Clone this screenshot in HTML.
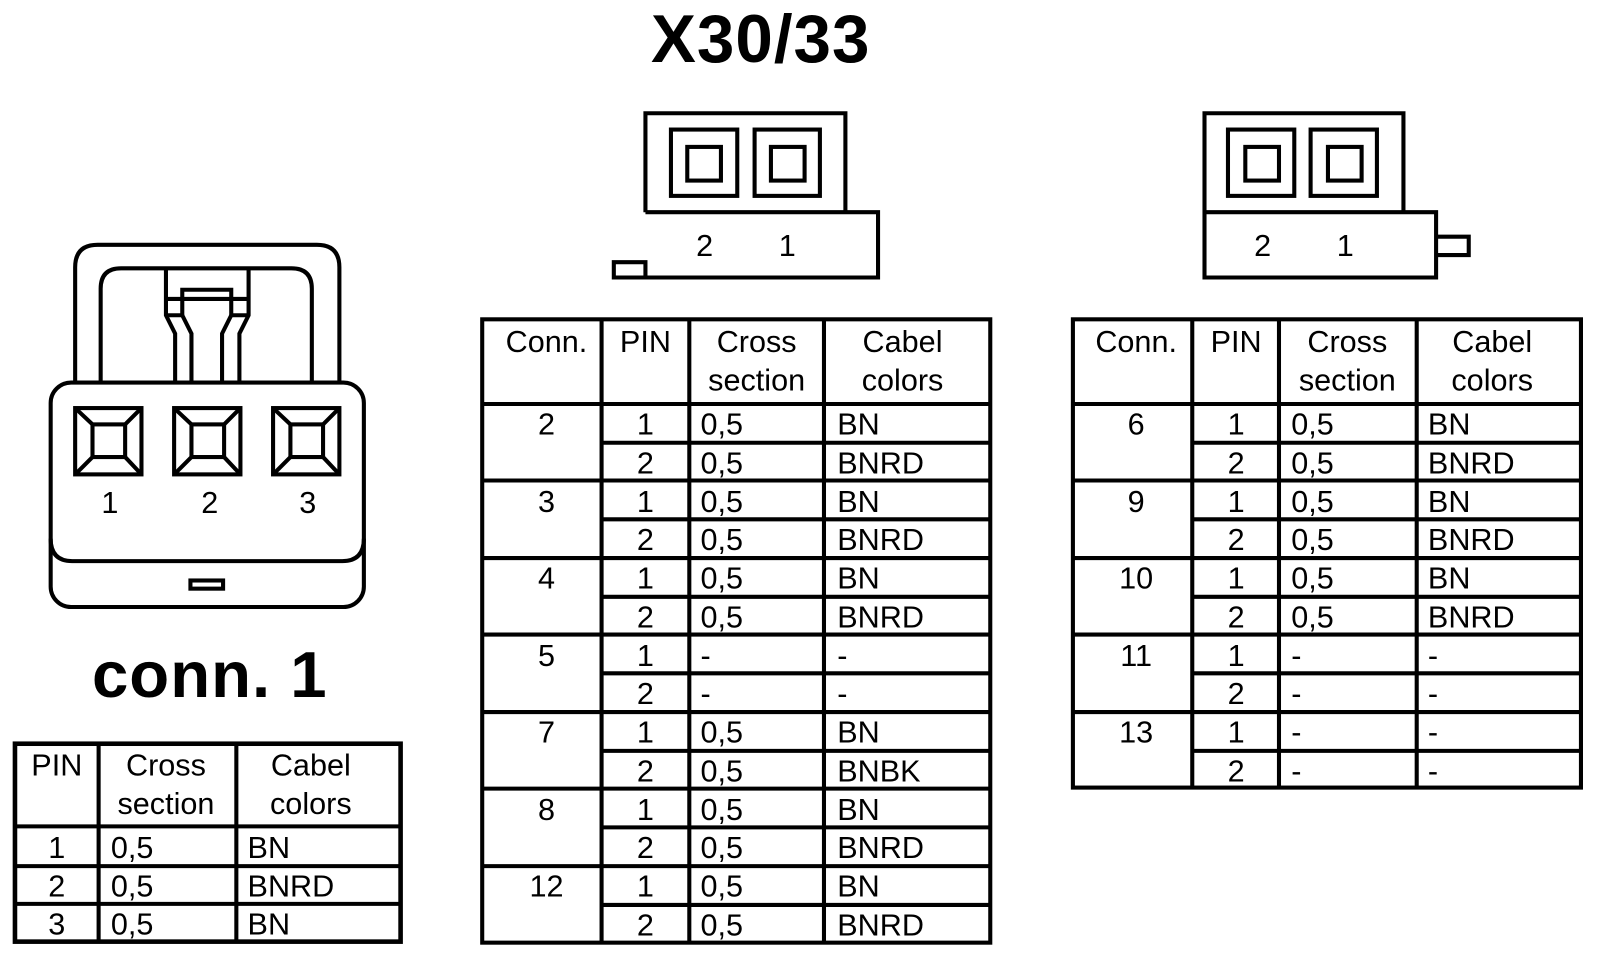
<!DOCTYPE html>
<html><head><meta charset="utf-8"><style>
html,body{margin:0;padding:0;background:#fff;width:1600px;height:960px;overflow:hidden}
svg{display:block}
text{font-family:"Liberation Sans",Arial,sans-serif;fill:#000}
.t{font-size:30px}
.c{text-anchor:middle}
</style></head><body>
<svg width="1600" height="960" viewBox="0 0 1567 941" xmlns="http://www.w3.org/2000/svg">
<g fill="none" stroke="#000" stroke-width="4">
<path d="M73,375 V262 Q73,240 95,240 H310 Q332,240 332,262 V375"/>
<path d="M98,375 V283 Q98,263 118,263 H285 Q305,263 305,283 V375"/>
<path d="M162,263 V309 L171,327 V375 M243,263 V309 L234,327 V375 M162,293 H243"/>
<path d="M162,309 H178 V284 H226 V309 H243"/>
<path d="M178,309 L187,327 V375 M226,309 L217,327 V375"/>
<rect x="49" y="375" width="307" height="220" rx="20"/>
<path d="M49,528 Q49,550 70,550 H335 Q356,550 356,528"/>
<rect x="186" y="569" width="32" height="8"/>
<g id="sq">
<rect x="73" y="400" width="65" height="65"/>
<rect x="90" y="416" width="32" height="32"/>
<path d="M73,400 L90,416 M138,400 L122,416 M73,465 L90,448 M138,465 L122,448"/>
</g>
<use href="#sq" x="97"/>
<use href="#sq" x="194"/>
<path d="M632,208 V111 H828 V208 M601,257 H632 V272 H601 Z M632,208 H860 V272 H632 V257"/>
<rect x="657" y="127" width="65" height="65"/>
<rect x="673" y="144" width="33" height="33"/>
<rect x="739" y="127" width="64" height="65"/>
<rect x="755" y="144" width="33" height="33"/>
<path d="M1180,208 V111 H1375 V208 M1180,208 H1407 V272 H1180 Z M1407,232 H1439 V250 H1407"/>
<rect x="1203" y="127" width="65" height="65"/>
<rect x="1220" y="144" width="33" height="33"/>
<rect x="1284" y="127" width="65" height="65"/>
<rect x="1301" y="144" width="33" height="33"/>
</g>
<text x="690" y="251" class="t c">2</text><text x="771" y="251" class="t c">1</text>
<text x="1237" y="251" class="t c">2</text><text x="1318" y="251" class="t c">1</text>
<text x="107" y="503" class="t c">1</text><text x="205" y="503" class="t c">2</text><text x="301" y="503" class="t c">3</text>
<text x="745" y="61" class="c" style="font-size:66px;font-weight:bold;letter-spacing:1px">X30/33</text>
<text x="205" y="683" class="c" style="font-size:64px;font-weight:bold;letter-spacing:1px">conn. 1</text>

<g stroke="#000" fill="none">
<rect x="14" y="729" width="378" height="194" stroke-width="4.5"/>
<path stroke-width="4" d="M96,729 V923 M231,729 V923 M14,810 H392 M14,849 H392 M14,886 H392"/>
</g>
<g class="t">
<text x="55" y="760" class="c">PIN</text>
<text x="162" y="760" class="c">Cross</text><text x="162" y="798" class="c">section</text>
<text x="304" y="760" class="c">Cabel</text><text x="304" y="798" class="c">colors</text>
<text x="55" y="841" class="c">1</text><text x="108" y="841">0,5</text><text x="242" y="841">BN</text>
<text x="55" y="879" class="c">2</text><text x="108" y="879">0,5</text><text x="242" y="879">BNRD</text>
<text x="55" y="916" class="c">3</text><text x="108" y="916">0,5</text><text x="242" y="916">BN</text>
</g>

<g stroke="#000" fill="none" stroke-width="4">
<rect x="472" y="313" width="498" height="611"/>
<path d="M589,313 V924 M675,313 V924 M807,313 V924
M472,396 H970 M589,434 H970 M472,471 H970 M589,509 H970 M472,547 H970 M589,585 H970 M472,622 H970
M589,660 H970 M472,698 H970 M589,736 H970 M472,773 H970 M589,811 H970 M472,849 H970 M589,887 H970"/>
</g>
<g class="t">
<text x="535" y="345" class="c">Conn.</text><text x="632" y="345" class="c">PIN</text>
<text x="741" y="345" class="c">Cross</text><text x="741" y="383" class="c">section</text>
<text x="884" y="345" class="c">Cabel</text><text x="884" y="383" class="c">colors</text>
<text x="535" y="426" class="c">2</text>
<text x="632" y="426" class="c">1</text><text x="686" y="426">0,5</text><text x="820" y="426">BN</text>
<text x="632" y="464" class="c">2</text><text x="686" y="464">0,5</text><text x="820" y="464">BNRD</text>
<text x="535" y="502" class="c">3</text>
<text x="632" y="502" class="c">1</text><text x="686" y="502">0,5</text><text x="820" y="502">BN</text>
<text x="632" y="539" class="c">2</text><text x="686" y="539">0,5</text><text x="820" y="539">BNRD</text>
<text x="535" y="577" class="c">4</text>
<text x="632" y="577" class="c">1</text><text x="686" y="577">0,5</text><text x="820" y="577">BN</text>
<text x="632" y="615" class="c">2</text><text x="686" y="615">0,5</text><text x="820" y="615">BNRD</text>
<text x="535" y="653" class="c">5</text>
<text x="632" y="653" class="c">1</text><text x="686" y="653">-</text><text x="820" y="653">-</text>
<text x="632" y="690" class="c">2</text><text x="686" y="690">-</text><text x="820" y="690">-</text>
<text x="535" y="728" class="c">7</text>
<text x="632" y="728" class="c">1</text><text x="686" y="728">0,5</text><text x="820" y="728">BN</text>
<text x="632" y="766" class="c">2</text><text x="686" y="766">0,5</text><text x="820" y="766">BNBK</text>
<text x="535" y="804" class="c">8</text>
<text x="632" y="804" class="c">1</text><text x="686" y="804">0,5</text><text x="820" y="804">BN</text>
<text x="632" y="841" class="c">2</text><text x="686" y="841">0,5</text><text x="820" y="841">BNRD</text>
<text x="535" y="879" class="c">12</text>
<text x="632" y="879" class="c">1</text><text x="686" y="879">0,5</text><text x="820" y="879">BN</text>
<text x="632" y="917" class="c">2</text><text x="686" y="917">0,5</text><text x="820" y="917">BNRD</text>
</g>

<g stroke="#000" fill="none" stroke-width="4">
<rect x="1051" y="313" width="498" height="459"/>
<path d="M1168,313 V772 M1253,313 V772 M1388,313 V772
M1051,396 H1549 M1168,434 H1549 M1051,471 H1549 M1168,509 H1549 M1051,547 H1549 M1168,585 H1549 M1051,622 H1549
M1168,660 H1549 M1051,698 H1549 M1168,736 H1549"/>
</g>
<g class="t">
<text x="1113" y="345" class="c">Conn.</text><text x="1211" y="345" class="c">PIN</text>
<text x="1320" y="345" class="c">Cross</text><text x="1320" y="383" class="c">section</text>
<text x="1462" y="345" class="c">Cabel</text><text x="1462" y="383" class="c">colors</text>
<text x="1113" y="426" class="c">6</text>
<text x="1211" y="426" class="c">1</text><text x="1265" y="426">0,5</text><text x="1399" y="426">BN</text>
<text x="1211" y="464" class="c">2</text><text x="1265" y="464">0,5</text><text x="1399" y="464">BNRD</text>
<text x="1113" y="502" class="c">9</text>
<text x="1211" y="502" class="c">1</text><text x="1265" y="502">0,5</text><text x="1399" y="502">BN</text>
<text x="1211" y="539" class="c">2</text><text x="1265" y="539">0,5</text><text x="1399" y="539">BNRD</text>
<text x="1113" y="577" class="c">10</text>
<text x="1211" y="577" class="c">1</text><text x="1265" y="577">0,5</text><text x="1399" y="577">BN</text>
<text x="1211" y="615" class="c">2</text><text x="1265" y="615">0,5</text><text x="1399" y="615">BNRD</text>
<text x="1113" y="653" class="c">11</text>
<text x="1211" y="653" class="c">1</text><text x="1265" y="653">-</text><text x="1399" y="653">-</text>
<text x="1211" y="690" class="c">2</text><text x="1265" y="690">-</text><text x="1399" y="690">-</text>
<text x="1113" y="728" class="c">13</text>
<text x="1211" y="728" class="c">1</text><text x="1265" y="728">-</text><text x="1399" y="728">-</text>
<text x="1211" y="766" class="c">2</text><text x="1265" y="766">-</text><text x="1399" y="766">-</text>
</g>
</svg>
</body></html>
